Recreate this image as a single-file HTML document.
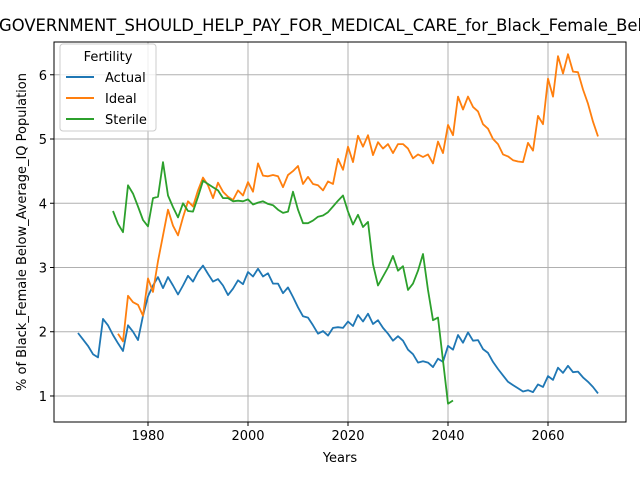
<!DOCTYPE html>
<html><head><meta charset="utf-8"><style>body{margin:0;background:#fff}svg{display:block;font-family:"DejaVu Sans","Liberation Sans",sans-serif}</style></head>
<body>
<svg id="chart" width="640" height="480" viewBox="0 0 640 480" xmlns="http://www.w3.org/2000/svg">
<rect width="640" height="480" fill="#fff"/>
<g id="grid"></g>
<g id="series"></g>
<rect x="54" y="42" width="572" height="380" fill="none" stroke="#000" stroke-width="1"/>
<g id="ticks"></g>
<text x="-1" y="31" text-anchor="start" font-size="16.4">GOVERNMENT_SHOULD_HELP_PAY_FOR_MEDICAL_CARE_for_Black_Female_Below_Average_IQ</text>
<text x="340" y="462" text-anchor="middle" font-size="13">Years</text>
<text transform="translate(26,232) rotate(-90)" text-anchor="middle" font-size="13">% of Black_Female Below_Average_IQ Population</text>
<g>
<rect x="60" y="44" width="96" height="87" rx="3" fill="#fff" fill-opacity="0.8" stroke="#ccc"/>
<text x="108" y="61" text-anchor="middle" font-size="13">Fertility</text>
<line x1="66" y1="77" x2="94" y2="77" stroke="#1f77b4" stroke-width="2"/><text x="105" y="82" font-size="13">Actual</text>
<line x1="66" y1="98" x2="94" y2="98" stroke="#ff7f0e" stroke-width="2"/><text x="105" y="103" font-size="13">Ideal</text>
<line x1="66" y1="119" x2="94" y2="119" stroke="#2ca02c" stroke-width="2"/><text x="105" y="124" font-size="13">Sterile</text>
</g>
</svg>
<script>
const actualStart = 1966;
const actualValues = [1.98,1.88,1.78,1.65,1.6,2.2,2.1,1.95,1.82,1.7,2.1,2.0,1.87,2.25,2.55,2.72,2.85,2.68,2.85,2.72,2.58,2.72,2.87,2.78,2.93,3.03,2.9,2.78,2.82,2.72,2.57,2.67,2.8,2.74,2.93,2.86,2.98,2.86,2.91,2.75,2.75,2.6,2.69,2.54,2.38,2.24,2.22,2.1,1.97,2.01,1.94,2.06,2.07,2.06,2.16,2.09,2.26,2.16,2.28,2.12,2.18,2.06,1.97,1.86,1.93,1.86,1.72,1.65,1.52,1.54,1.52,1.45,1.58,1.53,1.78,1.72,1.95,1.83,1.99,1.86,1.87,1.73,1.67,1.53,1.42,1.32,1.22,1.17,1.12,1.07,1.09,1.06,1.18,1.14,1.31,1.25,1.44,1.36,1.47,1.37,1.38,1.29,1.22,1.14,1.04];
const idealStart = 1974;
const idealValues = [1.97,1.85,2.56,2.46,2.42,2.25,2.83,2.62,3.1,3.5,3.9,3.65,3.5,3.78,4.03,3.95,4.2,4.4,4.28,4.08,4.32,4.18,4.1,4.05,4.2,4.12,4.33,4.18,4.62,4.43,4.42,4.44,4.42,4.25,4.44,4.5,4.58,4.3,4.41,4.3,4.28,4.2,4.34,4.3,4.69,4.52,4.88,4.64,5.05,4.88,5.06,4.75,4.95,4.85,4.92,4.78,4.92,4.92,4.85,4.7,4.76,4.72,4.76,4.62,4.96,4.78,5.22,5.06,5.66,5.46,5.66,5.5,5.43,5.23,5.16,5.0,4.92,4.76,4.73,4.67,4.65,4.64,4.94,4.82,5.36,5.23,5.94,5.66,6.29,6.02,6.32,6.05,6.04,5.77,5.55,5.27,5.04];
const sterileStart = 1973;
const sterileValues = [3.88,3.68,3.55,4.28,4.15,3.95,3.74,3.64,4.08,4.1,4.64,4.12,3.94,3.78,4.0,3.88,3.87,4.1,4.35,4.3,4.25,4.2,4.08,4.08,4.03,4.04,4.03,4.06,3.98,4.01,4.03,3.99,3.97,3.9,3.85,3.87,4.18,3.9,3.69,3.69,3.73,3.79,3.81,3.86,3.95,4.04,4.12,3.87,3.67,3.82,3.63,3.71,3.05,2.72,2.86,3.0,3.18,2.95,3.02,2.65,2.75,2.95,3.21,2.65,2.18,2.22,1.55,0.88,0.93];
const xTicks = [1980,2000,2020,2040,2060];
const yTicks = [1,2,3,4,5,6];

const NS = "http://www.w3.org/2000/svg";
const X0 = 54, X1 = 626, Y0 = 42, Y1 = 422;
const xMin = 1961.2, xMax = 2075.6, yMin = 0.595, yMax = 6.51;
const xs = v => X0 + (v - xMin) / (xMax - xMin) * (X1 - X0);
const ys = v => Y1 - (v - yMin) / (yMax - yMin) * (Y1 - Y0);
const grid = document.getElementById('grid'), ticks = document.getElementById('ticks'), series = document.getElementById('series');
function mk(tag, attrs, parent){const e=document.createElementNS(NS,tag);for(const k in attrs)e.setAttribute(k,attrs[k]);parent.appendChild(e);return e;}
xTicks.forEach(t=>{
  const x=xs(t);
  const g=mk('line',{x1:x,x2:x,y1:Y0,y2:Y1,stroke:'#b0b0b0','stroke-width':1},grid);
  
  
  mk('line',{x1:x,x2:x,y1:Y1,y2:Y1+4,stroke:'#000'},ticks);
  const l=mk('text',{x:x,y:Y1+18,'text-anchor':'middle','font-size':13},ticks);
  l.textContent=t;
  
  
});
yTicks.forEach(t=>{
  const y=ys(t);
  const g=mk('line',{x1:X0,x2:X1,y1:y,y2:y,stroke:'#b0b0b0','stroke-width':1},grid);
  
  
  mk('line',{x1:X0-4,x2:X0,y1:y,y2:y,stroke:'#000'},ticks);
  const l=mk('text',{x:X0-7,y:y+5,'text-anchor':'end','font-size':13},ticks);
  l.textContent=t;
  
  
});
function draw(start, vals, color, name){
  const pts = vals.map((v,i)=>xs(start+i).toFixed(1)+','+ys(v).toFixed(1)).join(' ');
  const p=mk('polyline',{points:pts,fill:'none',stroke:color,'stroke-width':1.8,'stroke-linejoin':'round'},series);
  
  
}
draw(actualStart, actualValues, '#1f77b4', 'actual-line');
draw(idealStart, idealValues, '#ff7f0e', 'ideal-line');
draw(sterileStart, sterileValues, '#2ca02c', 'sterile-line');
</script>
</body></html>
